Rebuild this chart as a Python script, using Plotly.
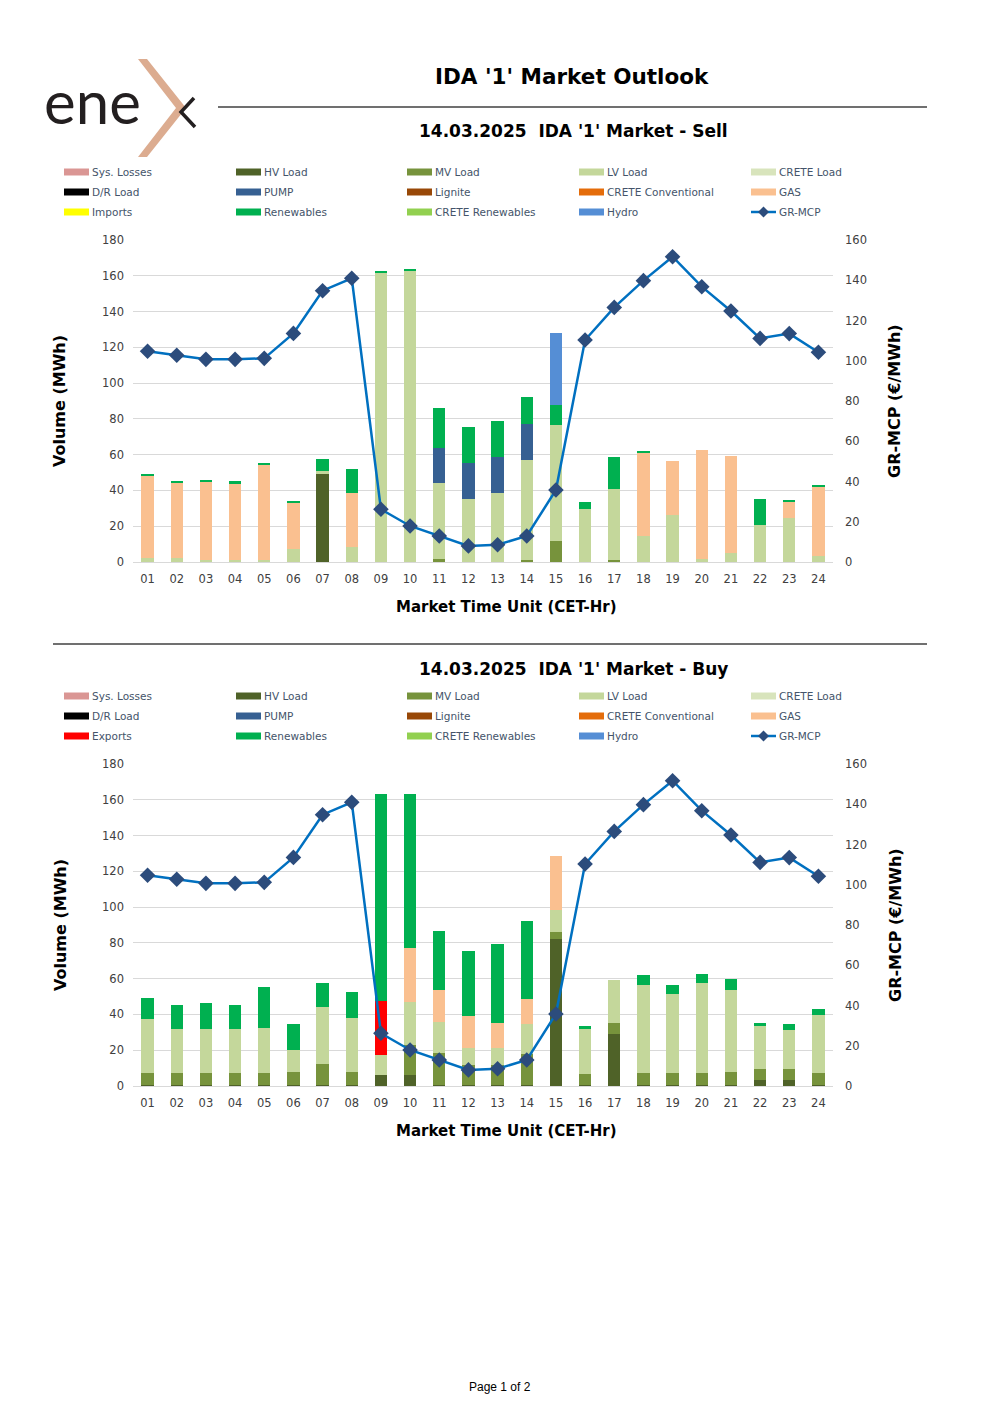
import plotly.graph_objects as go

# ---------------- DATA ----------------
hours = ["01", "02", "03", "04", "05", "06", "07", "08", "09", "10", "11", "12",
         "13", "14", "15", "16", "17", "18", "19", "20", "21", "22", "23", "24"]

gr_mcp = [104.7, 102.7, 100.7, 100.7, 101.2, 113.6, 134.8, 141.0, 26.2, 17.9, 12.9, 8.0,
          8.6, 12.9, 35.8, 110.3, 126.5, 139.8, 151.7, 136.8, 124.7, 111.1, 113.5, 104.2]

# Sell side (MWh)
sell_hv = [0, 0, 0, 0, 0, 0, 49.4, 0, 0, 0, 0, 0,
           0, 0, 0, 0, 0, 0, 0, 0, 0, 0, 0, 0]
sell_mv = [0, 0, 0, 0, 0, 0, 0, 0, 0, 0, 1.5, 0,
           0, 1.1, 11.7, 0, 1.3, 0, 0, 0, 0, 0, 0, 0]
sell_lv = [2.0, 2.4, 1.3, 1.3, 1.3, 7.5, 1.5, 8.4, 161.9, 162.7, 42.5, 35.2,
           38.8, 55.9, 64.9, 29.4, 39.7, 14.5, 26.1, 1.5, 4.8, 20.7, 24.6, 3.4]
sell_pump = [0, 0, 0, 0, 0, 0, 0, 0, 0, 0, 19.9, 20.1,
             19.9, 20.0, 0, 0, 0, 0, 0, 0, 0, 0, 0, 0]
sell_gas = [46.3, 41.9, 43.6, 42.7, 53.1, 26.0, 0, 30.4, 0, 0, 0, 0,
            0, 0, 0, 0, 0, 46.6, 30.2, 61.1, 54.5, 0, 9.1, 38.7]
sell_ren = [0.7, 0.8, 1.1, 1.1, 0.9, 0.6, 6.5, 13.2, 0.9, 0.7, 22.4, 20.2,
            20.1, 15.2, 11.2, 4.1, 17.9, 0.8, 0, 0, 0, 14.5, 1.0, 0.9]
sell_hydro = [0, 0, 0, 0, 0, 0, 0, 0, 0, 0, 0, 0,
              0, 0, 40.4, 0, 0, 0, 0, 0, 0, 0, 0, 0]

# Buy side (MWh)
buy_hv = [0.8, 0.8, 0.8, 0.8, 0.8, 0.8, 0.8, 0.8, 6.1, 6.1, 0.8, 0.8,
          0.8, 0.8, 82.4, 0.8, 29.3, 0.8, 0.8, 0.8, 0.8, 3.4, 3.4, 0.8]
buy_mv = [6.7, 6.3, 6.3, 6.3, 6.3, 6.8, 11.5, 7.2, 0, 16.8, 17.5, 11.1,
          10.9, 16.9, 3.7, 6.1, 5.7, 6.3, 6.7, 6.7, 6.8, 6.3, 6.1, 6.3]
buy_lv = [30.0, 24.6, 24.9, 24.9, 25.1, 12.7, 31.9, 30.2, 11.4, 23.9, 17.7, 9.2,
          9.4, 16.8, 12.1, 25.0, 24.3, 49.4, 43.7, 50.1, 46.2, 24.0, 21.6, 32.6]
buy_gas = [0, 0, 0, 0, 0, 0, 0, 0, 0, 30.2, 17.8, 18.0,
           14.3, 13.9, 30.4, 0, 0, 0, 0, 0, 0, 0, 0, 0]
buy_exports = [0, 0, 0, 0, 0, 0, 0, 0, 30.2, 0, 0, 0,
               0, 0, 0, 0, 0, 0, 0, 0, 0, 0, 0, 0]
buy_ren = [11.5, 13.6, 14.2, 13.3, 23.3, 14.2, 13.4, 14.2, 115.3, 86.2, 32.8, 36.5,
           43.8, 44.0, 0, 1.8, 0, 5.5, 5.4, 5.2, 5.8, 1.7, 3.7, 3.5]

legend_rows_sell = [
    [("Sys. Losses", "#DA9694"), ("HV Load", "#4F6228"), ("MV Load", "#77933C"),
     ("LV Load", "#C4D79B"), ("CRETE Load", "#D8E4BC")],
    [("D/R Load", "#000000"), ("PUMP", "#366092"), ("Lignite", "#984807"),
     ("CRETE Conventional", "#E46C0A"), ("GAS", "#FAC090")],
    [("Imports", "#FFFF00"), ("Renewables", "#00B050"), ("CRETE Renewables", "#92D050"),
     ("Hydro", "#558ED5"), ("GR-MCP", None)],
]
legend_rows_buy = [
    legend_rows_sell[0],
    legend_rows_sell[1],
    [("Exports", "#FF0000"), ("Renewables", "#00B050"), ("CRETE Renewables", "#92D050"),
     ("Hydro", "#558ED5"), ("GR-MCP", None)],
]

COL = {"HV Load": "#4F6228", "MV Load": "#77933C", "LV Load": "#C4D79B", "PUMP": "#366092",
       "GAS": "#FAC090", "Exports": "#FF0000", "Renewables": "#00B050", "Hydro": "#558ED5"}

W, H = 1000, 1415
def X(px): return px / W
def Y(py): return 1 - py / H

FONT = "DejaVu Sans"
TXT = "#404040"

fig = go.Figure()

def add_bars(name, vals, xa, ya):
    fig.add_trace(go.Bar(x=hours, y=vals, name=name, marker=dict(color=COL[name], line=dict(width=0)),
                         width=0.42, xaxis=xa, yaxis=ya, showlegend=False))

for nm, v in [("HV Load", sell_hv), ("MV Load", sell_mv), ("LV Load", sell_lv), ("PUMP", sell_pump),
              ("GAS", sell_gas), ("Renewables", sell_ren), ("Hydro", sell_hydro)]:
    add_bars(nm, v, "x", "y")
for nm, v in [("HV Load", buy_hv), ("MV Load", buy_mv), ("LV Load", buy_lv), ("GAS", buy_gas),
              ("Exports", buy_exports), ("Renewables", buy_ren)]:
    add_bars(nm, v, "x2", "y3")

for xa, ya in [("x", "y2"), ("x2", "y4")]:
    fig.add_trace(go.Scatter(x=hours, y=gr_mcp, mode="lines+markers", name="GR-MCP",
                             line=dict(color="#0070C0", width=2.5),
                             marker=dict(symbol="diamond", size=12, color="#2C4C7C", line=dict(width=0)),
                             xaxis=xa, yaxis=ya, showlegend=False, cliponaxis=False))

tickf = dict(family=FONT, size=11.5, color=TXT)
xcommon = dict(type="category", range=[-0.5, 23.5], autorange=False, showgrid=False, showline=True,
               linecolor="#D9D9D9", linewidth=1, ticks="", tickfont=tickf, ticklabelstandoff=6,
               domain=[X(133), X(833)], automargin=False)
yleft = dict(range=[0, 180], dtick=20, showgrid=True, gridcolor="#D9D9D9", gridwidth=1, zeroline=False,
             ticks="", tickfont=tickf, ticklabelstandoff=8, showline=False, automargin=False)
yright = dict(range=[0, 160], dtick=20, showgrid=False, zeroline=False, side="right",
              ticks="", tickfont=tickf, ticklabelstandoff=11, showline=False, automargin=False)

fig.update_layout(
    width=W, height=H, margin=dict(l=0, r=0, t=0, b=0),
    paper_bgcolor="white", plot_bgcolor="white", barmode="stack",
    font=dict(family=FONT, color=TXT),
    xaxis=dict(anchor="y", **xcommon),
    yaxis=dict(anchor="x", domain=[Y(562), Y(240)], **yleft),
    yaxis2=dict(anchor="x", overlaying="y", **yright),
    xaxis2=dict(anchor="y3", **xcommon),
    yaxis3=dict(anchor="x2", domain=[Y(1086), Y(764)], **yleft),
    yaxis4=dict(anchor="x2", overlaying="y3", **yright),
)

shapes = []
ann = []

# Title block
ann.append(dict(text="<b>IDA '1' Market Outlook</b>", x=X(572), y=Y(76), xref="paper", yref="paper",
                showarrow=False, font=dict(family=FONT, size=21.5, color="#000000"), xanchor="center", yanchor="middle"))
shapes.append(dict(type="line", x0=X(218), x1=X(927), y0=Y(107), y1=Y(107), xref="paper", yref="paper",
                   line=dict(color="#404040", width=1.5)))
shapes.append(dict(type="line", x0=X(53), x1=X(927), y0=Y(644), y1=Y(644), xref="paper", yref="paper",
                   line=dict(color="#404040", width=1.5)))

# Logo
ann.append(dict(text="ene", x=X(42), y=Y(101), xref="paper", yref="paper", showarrow=False,
                font=dict(family="Lato", size=60, color="#231F20"), xanchor="left", yanchor="middle"))
def P(x, y): return f"{X(x)},{Y(y)}"
chev = "M " + " L ".join([P(138, 59), P(147, 59), P(186, 108), P(147, 157), P(138, 157), P(176, 108)]) + " Z"
shapes.append(dict(type="path", path=chev, xref="paper", yref="paper", fillcolor="#DCAC90", line=dict(width=0)))
dark = "M " + " L ".join([P(194, 98), P(181, 112), P(195, 127)])
shapes.append(dict(type="path", path=dark, xref="paper", yref="paper", line=dict(color="#231F20", width=3.5)))

cols_x = [64, 236, 407, 579, 751]

def panel(top_sub_y, leg_y0, rows, subtitle, xt_y, yt_y):
    ann.append(dict(text=f"<b>{subtitle}</b>", x=X(573), y=Y(top_sub_y), xref="paper", yref="paper",
                    showarrow=False, font=dict(family=FONT, size=17, color="#000000"),
                    xanchor="center", yanchor="middle"))
    for r, row in enumerate(rows):
        yy = leg_y0 + 20 * r
        for c, (lab, colr) in enumerate(row):
            cx = cols_x[c]
            if colr is None:
                shapes.append(dict(type="line", x0=X(cx), x1=X(cx + 25), y0=Y(yy), y1=Y(yy), xref="paper",
                                   yref="paper", line=dict(color="#0070C0", width=2.5)))
                d = "M " + " L ".join([P(cx + 12.5, yy - 5.5), P(cx + 18, yy), P(cx + 12.5, yy + 5.5), P(cx + 7, yy)]) + " Z"
                shapes.append(dict(type="path", path=d, xref="paper", yref="paper", fillcolor="#2C4C7C",
                                   line=dict(width=0)))
            else:
                shapes.append(dict(type="rect", x0=X(cx), x1=X(cx + 25), y0=Y(yy - 3.5), y1=Y(yy + 3.5),
                                   xref="paper", yref="paper", fillcolor=colr, line=dict(width=0)))
            ann.append(dict(text=lab, x=X(cx + 26), y=Y(yy), xref="paper", yref="paper", showarrow=False,
                            font=dict(family=FONT, size=10.5, color="#44546A"), xanchor="left", yanchor="middle"))
    ann.append(dict(text="<b>Market Time Unit (CET-Hr)</b>", x=X(506), y=Y(xt_y), xref="paper", yref="paper",
                    showarrow=False, font=dict(family=FONT, size=15, color="#000000"), xanchor="center", yanchor="middle"))
    ann.append(dict(text="<b>Volume (MWh)</b>", x=X(60), y=Y(yt_y), xref="paper", yref="paper", textangle=-90,
                    showarrow=False, font=dict(family=FONT, size=16, color="#000000"), xanchor="center", yanchor="middle"))
    ann.append(dict(text="<b>GR-MCP (€/MWh)</b>", x=X(895), y=Y(yt_y), xref="paper", yref="paper", textangle=-90,
                    showarrow=False, font=dict(family=FONT, size=16, color="#000000"), xanchor="center", yanchor="middle"))

panel(131, 172, legend_rows_sell, "14.03.2025  IDA '1' Market - Sell", 607, 401)
panel(669, 696, legend_rows_buy, "14.03.2025  IDA '1' Market - Buy", 1131, 925)

ann.append(dict(text="Page 1 of 2", x=X(500), y=Y(1387), xref="paper", yref="paper", showarrow=False,
                font=dict(family="Liberation Sans", size=12, color="#000000"), xanchor="center", yanchor="middle"))

fig.update_layout(shapes=shapes, annotations=ann)
fig.write_html("out.html", config={"displayModeBar": False},
               post_script="document.body.style.margin='0';document.body.style.padding='0';"
                           "document.documentElement.style.overflow='hidden';")
